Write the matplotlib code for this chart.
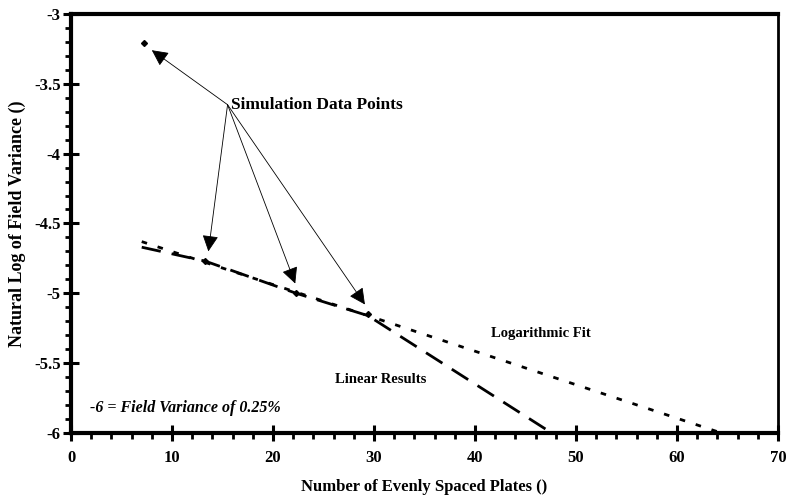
import matplotlib
matplotlib.use("Agg")
import matplotlib.pyplot as plt
from matplotlib.ticker import MultipleLocator

# ── Data ─────────────────────────────────────────────────────────────────────
sim_x = [7.2, 13.3, 22.3, 29.4]
sim_y = [-3.21, -4.77, -5.00, -5.15]

linear_x = [7.0, 13.3, 22.3, 29.4, 47.6]
linear_y = [-4.67, -4.77, -5.00, -5.16, -6.0]

logfit_x = [7.0, 29.4, 64.4]
logfit_y = [-4.63, -5.16, -6.0]

x_ticks = [0, 10, 20, 30, 40, 50, 60, 70]
y_ticks = [-6, -5.5, -5, -4.5, -4, -3.5, -3]
y_tick_labels = ["-6", "-5.5", "-5", "-4.5", "-4", "-3.5", "-3"]

# arrow tips of the "Simulation Data Points" callout
arrow_src = (15.5, -3.65)
arrow_tips = [(8.0, -3.26), (13.6, -4.70), (22.2, -4.93), (29.1, -5.08)]

plt.rcParams["font.family"] = ["Liberation Serif", "DejaVu Serif"]
plt.rcParams["font.weight"] = "bold"

fig = plt.figure(figsize=(7.99, 4.96), dpi=100)
ax = fig.add_axes([0.0889, 0.127, 0.8848, 0.845])

ax.plot(logfit_x, logfit_y, color="black", lw=2.0, ls=(0, (2, 4)))
ax.plot(linear_x, linear_y, color="black", lw=2.0, ls=(0, (7, 4)))
ax.plot(sim_x, sim_y, ls="none", marker="D", ms=3, color="black")

for tip in arrow_tips:
    ax.annotate("", xy=tip, xytext=arrow_src,
                arrowprops=dict(arrowstyle="-|>", color="black", lw=0.6,
                                mutation_scale=25, shrinkA=0, shrinkB=0))

ax.text(15.8, -3.65, "Simulation Data Points", fontsize=12.5, fontweight="bold",
        ha="left", va="center")
ax.text(46.5, -5.29, "Logarithmic Fit", fontsize=10.5, fontweight="bold",
        ha="center", va="center")
ax.text(30.7, -5.62, "Linear Results", fontsize=10.5, fontweight="bold",
        ha="center", va="center")
ax.text(1.9, -5.82, "-6 = Field Variance of 0.25%", fontsize=11.5,
        fontweight="bold", style="italic", ha="left", va="center")

ax.set_xlim(0, 70)
ax.set_ylim(-6, -3)
ax.set_xticks(x_ticks)
ax.set_xticklabels([str(t) for t in x_ticks])
ax.set_yticks(y_ticks)
ax.set_yticklabels(y_tick_labels)
ax.xaxis.set_minor_locator(MultipleLocator(2))
ax.yaxis.set_minor_locator(MultipleLocator(0.1))

ax.tick_params(which="major", direction="inout", length=11, width=2.2,
               labelsize=12, pad=7)
ax.tick_params(which="minor", direction="out", length=4, width=2)
ax.tick_params(axis="y", which="major", pad=2)

for side in ["top", "bottom", "left"]:
    ax.spines[side].set_linewidth(3)
ax.spines["right"].set_linewidth(2)

ax.set_xlabel("Number of Evenly Spaced Plates ()", fontsize=12,
              fontweight="bold", labelpad=9)
ax.set_ylabel("Natural Log of Field Variance ()", fontsize=13,
              fontweight="bold", labelpad=6)

fig.savefig("out.png", dpi=100)
